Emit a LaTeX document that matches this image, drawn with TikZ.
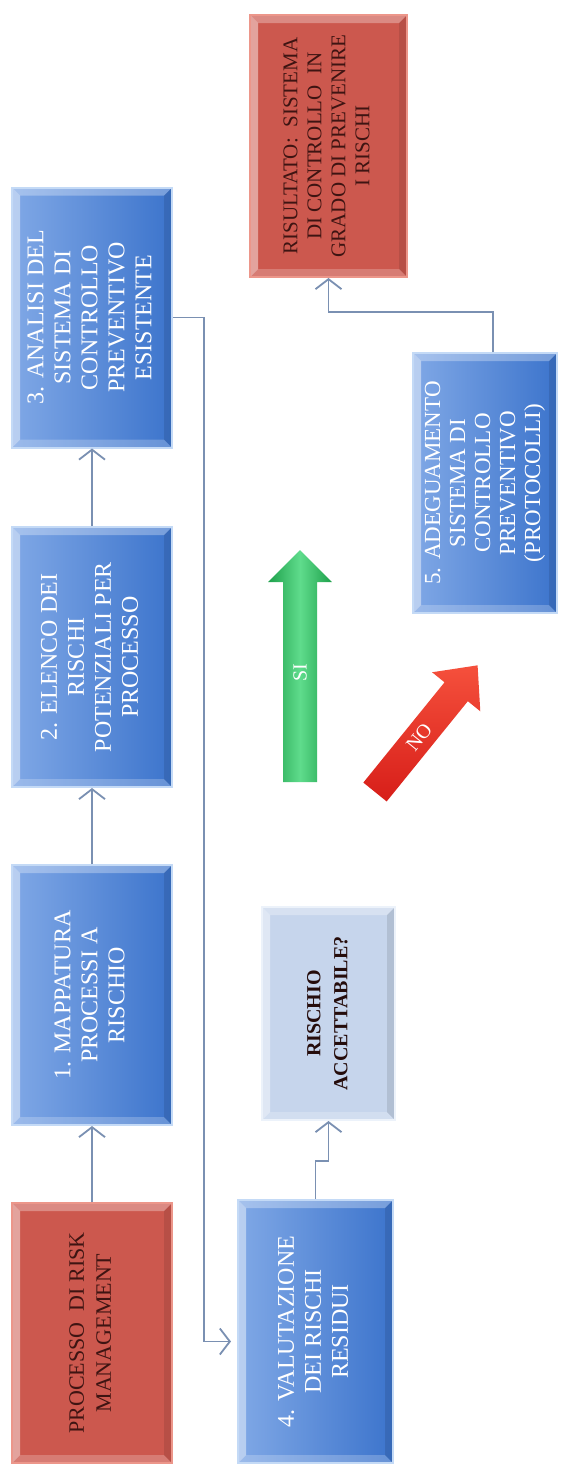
\documentclass[tikz,border=0pt]{standalone}
\usepackage{graphicx}
\usepackage{fontspec}
\setmainfont{Liberation Serif}
\usepackage{tikz}
\usetikzlibrary{arrows.meta}
\definecolor{bluelight}{RGB}{128,168,230}
\definecolor{bluedark}{RGB}{60,116,204}
\definecolor{blueedge}{RGB}{196,218,246}
\definecolor{redbox}{RGB}{204,88,78}
\definecolor{rededge}{RGB}{236,150,138}
\definecolor{redtext}{RGB}{62,20,18}
\definecolor{palebox}{RGB}{198,213,236}
\definecolor{paleedge}{RGB}{236,242,250}
\definecolor{linkcol}{RGB}{122,144,178}
\definecolor{sidark}{RGB}{30,160,75}
\definecolor{silight}{RGB}{95,220,140}
\definecolor{nodark}{RGB}{215,30,25}
\definecolor{nolight}{RGB}{245,80,60}
\tikzset{>={Straight Barb[length=5pt,width=13pt]}}
\tikzstyle{link} = [->, linkcol, line width=0.9pt]
\tikzstyle{bevel} = [path picture={
  \fill [white, opacity=0.45] (path picture bounding box.south west) -- (path picture bounding box.north west)
    -- ([shift={(4pt,-4pt)}]path picture bounding box.north west) -- ([shift={(4pt,4pt)}]path picture bounding box.south west) -- cycle;
  \fill [white, opacity=0.3] (path picture bounding box.north west) -- (path picture bounding box.north east)
    -- ([shift={(-4pt,-4pt)}]path picture bounding box.north east) -- ([shift={(4pt,-4pt)}]path picture bounding box.north west) -- cycle;
  \fill [white, opacity=0.22] (path picture bounding box.south west) -- (path picture bounding box.south east)
    -- ([shift={(-4pt,4pt)}]path picture bounding box.south east) -- ([shift={(4pt,4pt)}]path picture bounding box.south west) -- cycle;
  \fill [black, opacity=0.1] (path picture bounding box.south east) -- (path picture bounding box.north east)
    -- ([shift={(-4pt,-4pt)}]path picture bounding box.north east) -- ([shift={(-4pt,4pt)}]path picture bounding box.south east) -- cycle;
}]
\tikzstyle{bluebox} = [bevel, minimum width=80pt, minimum height=130pt, inner sep=0,
  left color=bluelight, right color=bluedark, draw=blueedge, line width=1pt,
  text=white, font=\fontsize{12}{13.5}\selectfont]
\tikzstyle{redbox} = [bevel, minimum width=80pt, minimum height=130pt, inner sep=0,
  fill=redbox, draw=rededge, line width=1pt, text=redtext,
  font=\fontsize{11}{13.5}\selectfont]
\tikzstyle{palebox} = [bevel, inner sep=0, fill=palebox, draw=paleedge, line width=1pt,
  text=redtext!60!black, font=\bfseries\fontsize{10}{13.5}\selectfont]
\newcommand{\vtext}[1]{\rotatebox{90}{\begin{tabular}{@{}c@{}}#1\end{tabular}}}

\begin{document}
\begin{tikzpicture}[x=0.5pt, y=-0.5pt]
\path [fill=white, use as bounding box] (0,0) rectangle (569,1472);

% left column
\node [redbox] (pm) at (92,1333) {\vtext{PROCESSO \ DI RISK\\MANAGEMENT}};
\node [bluebox] (map) at (92,995) {\vtext{1. MAPPATURA\\PROCESSI A\\RISCHIO}};
\node [bluebox] (elenco) at (92,657) {\vtext{2. ELENCO DEI\\RISCHI\\POTENZIALI PER\\PROCESSO}};
\node [bluebox] (analisi) at (92,317.5) {\vtext{3. ANALISI DEL\\SISTEMA DI\\CONTROLLO\\PREVENTIVO\\ESISTENTE}};

% right part
\node [bluebox, minimum width=77.5pt, minimum height=131.5pt] (valut) at (315.5,1331.5) {\vtext{4. VALUTAZIONE\\DEI RISCHI\\RESIDUI}};
\node [palebox, minimum width=66.5pt, minimum height=106.5pt] (acc) at (328.5,1013.5) {\vtext{RISCHIO\\ACCETTABILE?}};
\node [bluebox, minimum width=72pt, font=\fontsize{11.5}{12.5}\selectfont] (adeg) at (485,483) {\vtext{5. ADEGUAMENTO\\SISTEMA DI\\CONTROLLO\\PREVENTIVO\\(PROTOCOLLI)}};
\node [redbox, minimum width=78.5pt, minimum height=131pt, font=\fontsize{10.5}{12}\selectfont] (ris) at (328.5,146) {\vtext{RISULTATO: \ SISTEMA\\DI CONTROLLO \ IN\\GRADO DI PREVENIRE\\I RISCHI}};

% connectors
\draw [link] (pm) to (map);
\draw [link] (map) to (elenco);
\draw [link] (elenco) to (analisi);
\draw [link, shorten >=3pt] (analisi.east) -- ++(31,0) |- ([yshift=-5pt]valut.west);
\draw [link] (valut.north) -- ++(0,-38) -| (acc.south);
\draw [link] ([xshift=4pt]adeg.north) -- ++(0,-40) -| (ris.south);

% block arrows
\shade [left color=sidark, right color=sidark, middle color=silight]
  (283,782) -- (283,582) -- (268,582) -- (300,550) -- (332,582) -- (317,582) -- (317,782) -- cycle;
\node [rotate=90, text=white, font=\fontsize{10}{12}\selectfont] (si) at (300,673) {SI};
\begin{scope}[shift={(375,792)}, rotate=51]
\shade [top color=nolight, bottom color=nodark]
  (0,-15) -- (129,-15) -- (129,-31) -- (163,0) -- (129,31) -- (129,15) -- (0,15) -- cycle;
\node [rotate=51, text=white, inner sep=1pt, font=\fontsize{10}{12}\selectfont] (no) at (70,0) {NO};
\end{scope}
\end{tikzpicture}
\end{document}
